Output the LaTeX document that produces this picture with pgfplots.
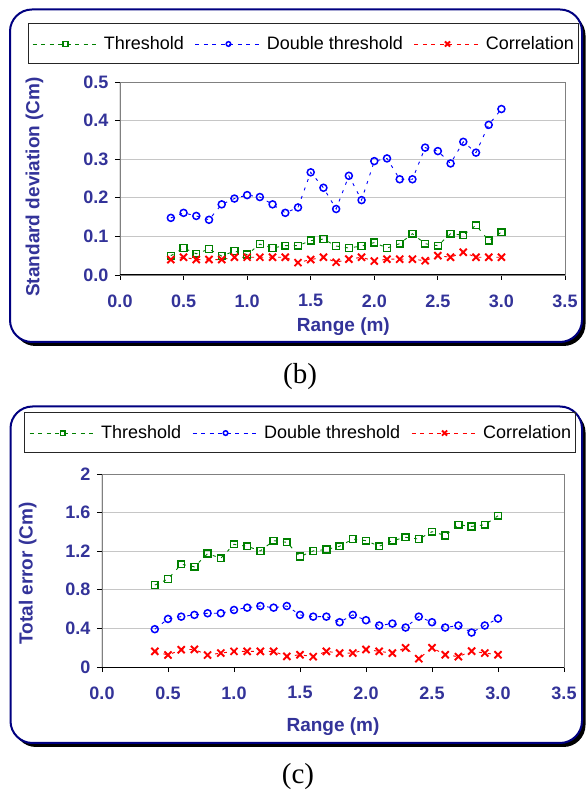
\documentclass[border=0pt]{standalone}
\usepackage{fontspec}
\setmainfont{Liberation Sans}
\newfontfamily\serifcap{Liberation Serif}
\usepackage{pgfplots}
\usepackage{pgfplotstable}
\pgfplotsset{compat=1.18}

\definecolor{xlnavy}{RGB}{51,51,153}
\definecolor{boxnavy}{RGB}{0,0,128}
\definecolor{xlgreen}{RGB}{0,128,0}

% (b) standard deviation
\pgfplotstableread{
x    thr    dbl    corr
0.4  0.050  0.148  0.040
0.5  0.070  0.161  0.046
0.6  0.055  0.153  0.040
0.7  0.067  0.143  0.040
0.8  0.049  0.183  0.040
0.9  0.062  0.198  0.046
1.0  0.053  0.207  0.046
1.1  0.080  0.202  0.046
1.2  0.070  0.183  0.046
1.3  0.076  0.161  0.046
1.4  0.076  0.175  0.032
1.5  0.089  0.266  0.040
1.6  0.093  0.226  0.046
1.7  0.075  0.171  0.033
1.8  0.070  0.257  0.041
1.9  0.075  0.194  0.046
2.0  0.084  0.295  0.036
2.1  0.070  0.302  0.041
2.2  0.081  0.248  0.041
2.3  0.107  0.248  0.041
2.4  0.081  0.330  0.037
2.5  0.076  0.321  0.050
2.6  0.107  0.289  0.046
2.7  0.103  0.345  0.059
2.8  0.129  0.317  0.046
2.9  0.089  0.389  0.046
3.0  0.111  0.430  0.046
}\stddev

% (c) total error
\pgfplotstableread{
x    thr    dbl    corr
0.4  0.849  0.392  0.162
0.5  0.911  0.498  0.124
0.6  1.065  0.522  0.179
0.7  1.038  0.540  0.182
0.8  1.175  0.557  0.124
0.9  1.127  0.557  0.144
1.0  1.271  0.591  0.162
1.1  1.251  0.615  0.162
1.2  1.203  0.632  0.162
1.3  1.309  0.615  0.162
1.4  1.292  0.632  0.110
1.5  1.144  0.540  0.127
1.6  1.203  0.522  0.107
1.7  1.218  0.522  0.162
1.8  1.251  0.464  0.144
1.9  1.326  0.540  0.144
2.0  1.309  0.485  0.182
2.1  1.251  0.430  0.162
2.2  1.309  0.450  0.144
2.3  1.344  0.409  0.199
2.4  1.326  0.522  0.086
2.5  1.402  0.464  0.199
2.6  1.364  0.409  0.127
2.7  1.474  0.430  0.107
2.8  1.457  0.357  0.165
2.9  1.474  0.430  0.144
3.0  1.567  0.502  0.127
}\toterr

\pgfplotsset{
  panel/.style={
    scale only axis,
    xmin=0, xmax=3.5, xtick={0,0.5,1,1.5,2,2.5,3,3.5},
    axis line style={draw=gray, line width=0.8pt},
    ymajorgrids, grid style={gray!45, line width=0.8pt},
    tick align=outside, xtick pos=bottom, ytick pos=left,
    major tick length=5pt, tick style={black, line width=0.9pt},
    /pgf/number format/assume math mode=true,
    ticklabel style={font=\bfseries\fontsize{18}{20}\selectfont, text=xlnavy},
    xticklabel style={yshift=-11pt, /pgf/number format/.cd, fixed, fixed zerofill, precision=1, /tikz/.cd},
    yticklabel style={xshift=-3pt},
    label style={font=\bfseries\fontsize{19}{21}\selectfont, text=xlnavy},
    legend columns=3,
    legend style={draw=none, fill=none, font=\fontsize{18}{20}\selectfont,
      anchor=center,
      /tikz/every odd column/.append style={column sep=3pt},
      /tikz/every even column/.append style={column sep=9pt}},
    legend image code/.code={
      \draw[mark repeat=2, mark phase=2, ##1, dash pattern=on 4pt off 4.5pt]
        plot coordinates {(0pt,0pt) (33pt,0pt) (66pt,0pt)};},
  },
  thr/.style={xlgreen, line width=0.9pt, dash pattern=on 3pt off 6pt,
    mark=square, mark size=3.4pt, mark options={solid, fill=white, line width=1.5pt},
    legend image post style={mark size=2.3pt}},
  dbl/.style={blue, line width=0.9pt, dash pattern=on 3pt off 6pt,
    mark=o, mark size=3.5pt, mark options={solid, fill=white, line width=1.5pt},
    legend image post style={mark size=2.3pt}},
  corr/.style={red, line width=0.9pt, dash pattern=on 3pt off 6pt,
    mark=x, mark size=5pt, mark options={solid, line width=1.9pt},
    legend image post style={mark size=3.6pt}},
}

\begin{document}
\begin{tikzpicture}
\path[use as bounding box] (0pt,0pt) rectangle (587pt,793pt);

% panel frames
\fill[black, rounded corners=22pt] (13.5pt,447pt) rectangle (585.5pt,779.5pt);
\filldraw[fill=white, draw=boxnavy, line width=2pt, rounded corners=22pt]
  (10pt,451pt) rectangle (582pt,783.5pt);
\fill[black, rounded corners=22pt] (14pt,46pt) rectangle (585.5pt,382.5pt);
\filldraw[fill=white, draw=boxnavy, line width=2pt, rounded corners=22pt]
  (10.5pt,50pt) rectangle (582pt,386.5pt);

% legend frames
\draw[black!85, line width=1pt] (28pt,729pt) rectangle (578pt,769pt);
\draw[black!85, line width=1pt] (24pt,340pt) rectangle (575pt,380pt);

\begin{axis}[panel,
  at={(120pt,518pt)}, anchor=south west,
  width=445pt, height=193pt,
  ymin=0, ymax=0.5, ytick={0,0.1,0.2,0.3,0.4,0.5},
  yticklabel style={/pgf/number format/.cd, fixed, fixed zerofill, precision=1, /tikz/.cd},
  xlabel={Range (m)}, ylabel={Standard deviation (Cm)},
  xlabel style={at={(axis description cs:0.502,-0.269)}, anchor=center},
  ylabel style={at={(axis description cs:-0.192,0.456)}, anchor=center},
  legend style={at={(axis description cs:0.4135,1.197)}},
]
\addplot[thr] table[x=x, y=thr] {\stddev};
\addlegendentry{Threshold}
\addplot[dbl] table[x=x, y=dbl] {\stddev};
\addlegendentry{Double threshold}
\addplot[corr] table[x=x, y=corr] {\stddev};
\addlegendentry{Correlation}
\draw[black, line width=1pt] (rel axis cs:0,1) -- (rel axis cs:0,0) -- (rel axis cs:1,0);
\end{axis}

\begin{axis}[panel,
  at={(102pt,126pt)}, anchor=south west,
  width=462pt, height=193pt,
  ymin=0, ymax=2, ytick={0,0.4,0.8,1.2,1.6,2},
  xlabel={Range (m)}, ylabel={Total error (Cm)},
  xlabel style={at={(axis description cs:0.5,-0.311)}, anchor=center},
  ylabel style={at={(axis description cs:-0.161,0.484)}, anchor=center},
  legend style={at={(axis description cs:0.431,1.212)}},
]
\addplot[thr] table[x=x, y=thr] {\toterr};
\addlegendentry{Threshold}
\addplot[dbl] table[x=x, y=dbl] {\toterr};
\addlegendentry{Double threshold}
\addplot[corr] table[x=x, y=corr] {\toterr};
\addlegendentry{Correlation}
\draw[black, line width=1pt] (rel axis cs:0,1) -- (rel axis cs:0,0) -- (rel axis cs:1,0);
\end{axis}

\node[font=\serifcap\fontsize{29}{32}\selectfont] at (300pt,416pt) {(b)};
\node[font=\serifcap\fontsize{29}{32}\selectfont] at (298pt,16pt) {(c)};
\end{tikzpicture}
\end{document}
